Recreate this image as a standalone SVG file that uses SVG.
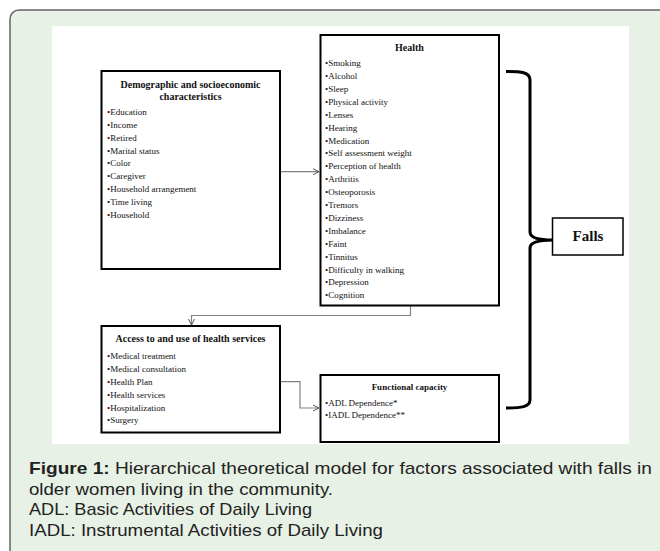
<svg xmlns="http://www.w3.org/2000/svg" width="660" height="551" viewBox="0 0 660 551">
<defs>
<style>
.box{fill:#fff;stroke:#000;stroke-width:2}
.t{font-family:"Liberation Serif","Times New Roman",serif;font-size:9px;fill:#111}
.h{font-family:"Liberation Serif","Times New Roman",serif;font-size:10px;font-weight:bold;fill:#111;text-anchor:middle}
.cap{font-family:"Liberation Sans",Arial,sans-serif;font-size:17px;fill:#222}
.conn{fill:none;stroke:#808080;stroke-width:1.2}
</style>
<marker id="arr" markerWidth="8" markerHeight="8" refX="7" refY="4" orient="auto" markerUnits="userSpaceOnUse">
<path d="M1,1 L7,4 L1,7" fill="none" stroke="#555" stroke-width="1"/>
</marker>
</defs>
<rect x="10" y="10" width="700" height="600" rx="9" fill="#e8f1e5" stroke="#666" stroke-width="1.5"/>
<rect x="52" y="26" width="577" height="418" fill="#fff"/>

<g id="connectors">
<path class="conn" d="M280,171.7 L319,171.7" marker-end="url(#arr)"/>
<path class="conn" d="M410.5,305.5 L410.5,315.5 L191.5,315.5 L191.5,325" marker-end="url(#arr)"/>
<path class="conn" d="M280,381.7 L300,381.7 L300,408 L319,408" marker-end="url(#arr)"/>
<path d="M506,71.5 C521,71.5 530,72 530,80 L530,232 C530,238 538,240 552.5,240 C538,240 530,242 530,248 L530,400 C530,407 521,408 506,408" fill="none" stroke="#000" stroke-width="3"/>
</g>

<g id="demographic">
<rect class="box" x="101.5" y="71" width="178.5" height="198"/>
<text class="h" x="190.5" y="88">Demographic and socioeconomic</text>
<text class="h" x="190.5" y="100">characteristics</text>
<text class="t" x="107" y="115">•Education</text>
<text class="t" x="107" y="128">•Income</text>
<text class="t" x="107" y="141">•Retired</text>
<text class="t" x="107" y="154">•Marital  status</text>
<text class="t" x="107" y="166">•Color</text>
<text class="t" x="107" y="179">•Caregiver</text>
<text class="t" x="107" y="192">•Household  arrangement</text>
<text class="t" x="107" y="205">•Time  living</text>
<text class="t" x="107" y="218">•Household</text>
</g>

<g id="health">
<rect class="box" x="320.5" y="35" width="178.5" height="270.5"/>
<text class="h" x="409.5" y="51">Health</text>
<text class="t" x="325" y="66">•Smoking</text>
<text class="t" x="325" y="79">•Alcohol</text>
<text class="t" x="325" y="92">•Sleep</text>
<text class="t" x="325" y="104.5">•Physical  activity</text>
<text class="t" x="325" y="117.5">•Lenses</text>
<text class="t" x="325" y="130.5">•Hearing</text>
<text class="t" x="325" y="143.5">•Medication</text>
<text class="t" x="325" y="156">•Self  assessment  weight</text>
<text class="t" x="325" y="169">•Perception  of  health</text>
<text class="t" x="325" y="182">•Arthritis</text>
<text class="t" x="325" y="195">•Osteoporosis</text>
<text class="t" x="325" y="208">•Tremors</text>
<text class="t" x="325" y="221">•Dizziness</text>
<text class="t" x="325" y="234">•Imbalance</text>
<text class="t" x="325" y="246.5">•Faint</text>
<text class="t" x="325" y="259.5">•Tinnitus</text>
<text class="t" x="325" y="272.5">•Difficulty  in  walking</text>
<text class="t" x="325" y="285">•Depression</text>
<text class="t" x="325" y="298">•Cognition</text>
</g>

<g id="access">
<rect class="box" x="101.5" y="326" width="178.5" height="106.5"/>
<text class="h" x="190.5" y="342">Access to and use of health services</text>
<text class="t" x="107" y="359">•Medical  treatment</text>
<text class="t" x="107" y="371.5">•Medical  consultation</text>
<text class="t" x="107" y="384.5">•Health  Plan</text>
<text class="t" x="107" y="397.5">•Health  services</text>
<text class="t" x="107" y="410.5">•Hospitalization</text>
<text class="t" x="107" y="423">•Surgery</text>
</g>

<g id="functional">
<rect class="box" x="320.5" y="375" width="178.5" height="67"/>
<text class="h" x="409.5" y="390" style="font-size:9px">Functional  capacity</text>
<text class="t" x="325" y="406">•ADL Dependence*</text>
<text class="t" x="325" y="417.5">•IADL Dependence**</text>
</g>

<g id="falls">
<rect x="552.5" y="218" width="70.5" height="37" fill="#fff" stroke="#000" stroke-width="1.5"/>
<text class="h" x="588" y="241" style="font-size:15px">Falls</text>
</g>

<g id="caption">
<text class="cap" x="29" y="474" textLength="623" lengthAdjust="spacingAndGlyphs"><tspan font-weight="bold">Figure 1:</tspan> Hierarchical theoretical model for factors associated with falls in</text>
<text class="cap" x="29" y="494.5" textLength="304" lengthAdjust="spacingAndGlyphs">older women living in the community.</text>
<text class="cap" x="29" y="515" textLength="283" lengthAdjust="spacingAndGlyphs">ADL: Basic Activities of Daily Living</text>
<text class="cap" x="29" y="535.5" textLength="354" lengthAdjust="spacingAndGlyphs">IADL: Instrumental Activities of Daily Living</text>
</g>
</svg>
